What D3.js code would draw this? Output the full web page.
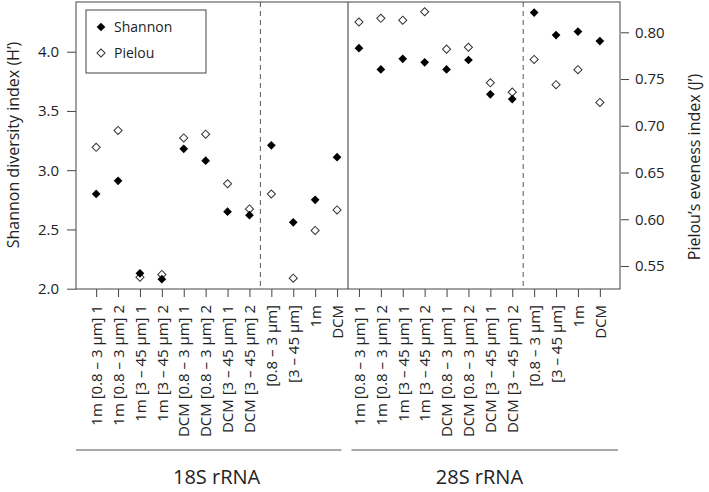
<!DOCTYPE html>
<html><head><meta charset="utf-8">
<script src="https://cdn.jsdelivr.net/npm/d3@7"></script>
<style>body{margin:0;background:#fff}svg{display:block}text{font-family:"Open Sans",sans-serif;fill:#222}</style>
</head><body>
<svg id="c" width="709" height="492"></svg>
<script>
const categories = [
 "1m [0.8 – 3 µm] 1","1m [0.8 – 3 µm] 2","1m [3 – 45 µm] 1","1m [3 – 45 µm] 2",
 "DCM [0.8 – 3 µm] 1","DCM [0.8 – 3 µm] 2","DCM [3 – 45 µm] 1","DCM [3 – 45 µm] 2",
 "[0.8 – 3 µm]","[3 – 45 µm]","1m","DCM",
 "1m [0.8 – 3 µm] 1","1m [0.8 – 3 µm] 2","1m [3 – 45 µm] 1","1m [3 – 45 µm] 2",
 "DCM [0.8 – 3 µm] 1","DCM [0.8 – 3 µm] 2","DCM [3 – 45 µm] 1","DCM [3 – 45 µm] 2",
 "[0.8 – 3 µm]","[3 – 45 µm]","1m","DCM"];
const shannon = [2.80,2.91,2.13,2.08,3.18,3.08,2.65,2.62,3.21,2.56,2.75,3.11,
                 4.03,3.85,3.94,3.91,3.85,3.93,3.64,3.60,4.33,4.14,4.17,4.09];
const pielou  = [0.677,0.695,0.538,0.541,0.687,0.691,0.638,0.611,0.627,0.537,0.588,0.610,
                 0.811,0.815,0.813,0.822,0.782,0.784,0.746,0.736,0.771,0.744,0.760,0.725];
const leftTicks = [2.0,2.5,3.0,3.5,4.0];
const rightTicks = [0.55,0.60,0.65,0.70,0.75,0.80];
const groups = ["18S rRNA","28S rRNA"];
const separators = [{at:8.5, dashed:true},{at:12.5, dashed:false},{at:20.5, dashed:true}];

const svg = d3.select("#c");
const L=76, R=620, T=2, B=289;
const x = d3.scaleLinear().domain([0.08,24.92]).range([L,R]);
const yL = d3.scaleLinear().domain([2.0,4.0]).range([288.7,51.7]);
const yR = d3.scaleLinear().domain([0.55,0.80]).range([266,32.3]);
const idx = categories.map((d,i)=>i+1);

// separators
separators.forEach(s=>{
  svg.append("line").attr("x1",x(s.at)).attr("x2",x(s.at)).attr("y1",T).attr("y2",B)
    .attr("stroke",s.dashed?"#555":"#333").attr("stroke-width",1)
    .attr("stroke-dasharray",s.dashed?"5,4":null);
});
// box
svg.append("rect").attr("x",L).attr("y",T).attr("width",R-L).attr("height",B-T)
  .attr("fill","none").attr("stroke","#444").attr("stroke-width",1);

// left axis
const ga = svg.append("g").attr("transform",`translate(${L},0)`)
  .call(d3.axisLeft(yL).tickValues(leftTicks).tickFormat(d3.format(".1f")).tickSize(9).tickPadding(8));
ga.select(".domain").remove();
ga.selectAll("line").attr("stroke","#444");
ga.selectAll("text").style("font-size","15px").attr("fill","#222");

// right axis
const gr = svg.append("g").attr("transform",`translate(${R+1},0)`)
  .call(d3.axisRight(yR).tickValues(rightTicks).tickFormat(d3.format(".2f")).tickSize(8).tickPadding(6));
gr.select(".domain").remove();
gr.selectAll("line").attr("stroke","#444");
gr.selectAll("text").style("font-size","15px").attr("fill","#222");

// bottom axis
const gb = svg.append("g").attr("transform",`translate(0,${B})`)
  .call(d3.axisBottom(x).tickValues(idx).tickFormat(i=>categories[i-1]).tickSize(8).tickPadding(4));
gb.select(".domain").remove();
gb.selectAll("line").attr("stroke","#444");
gb.selectAll("text").style("font-size","15px").attr("fill","#222")
  .attr("transform","rotate(-90)").attr("text-anchor","end")
  .attr("x",-16).attr("y",0).attr("dy","0.35em");

// points
svg.append("g").selectAll("path").data(pielou).join("path")
  .attr("d",d3.symbol().type(d3.symbolSquare2).size(42)())
  .attr("transform",(d,i)=>`translate(${x(i+1)},${yR(d)}) rotate(45)`)
  .attr("fill","none").attr("stroke","#333").attr("stroke-width",1);
svg.append("g").selectAll("path").data(shannon).join("path")
  .attr("d",d3.symbol().type(d3.symbolSquare).size(38)())
  .attr("transform",(d,i)=>`translate(${x(i+1)},${yL(d)}) rotate(45)`)
  .attr("fill","#000");

// axis titles
svg.append("text").attr("transform",`translate(13,145) rotate(-90)`).attr("text-anchor","middle")
  .attr("dy","0.35em").style("font-size","16px").text("Shannon diversity index (H’)");
svg.append("text").attr("transform",`translate(694,167) rotate(-90)`).attr("text-anchor","middle")
  .attr("dy","0.35em").style("font-size","16px").text("Pielou’s eveness index (J’)");

// legend
svg.append("rect").attr("x",86).attr("y",10).attr("width",120).attr("height",63)
  .attr("fill","#fff").attr("stroke","#444");
svg.append("path").attr("d",d3.symbol().type(d3.symbolSquare).size(38)())
  .attr("transform","translate(101,27) rotate(45)").attr("fill","#000");
svg.append("path").attr("d",d3.symbol().type(d3.symbolSquare2).size(42)())
  .attr("transform","translate(101,53) rotate(45)").attr("fill","none").attr("stroke","#333");
svg.append("text").attr("x",114).attr("y",32).style("font-size","14px").text("Shannon");
svg.append("text").attr("x",114).attr("y",58).style("font-size","14px").text("Pielou");

// groups
const mid = x(12.5);
const spans = [[L, mid-6.5],[mid+3.5, R-2]];
groups.forEach((g,k)=>{
  const [a,b] = spans[k];
  svg.append("line").attr("x1",a).attr("x2",b).attr("y1",450).attr("y2",450).attr("stroke","#555");
  svg.append("text").attr("x",(x(k*12+1)+x(k*12+12))/2).attr("y",484).attr("text-anchor","middle")
    .style("font-size","20px").text(g);
});
</script>
</body></html>
